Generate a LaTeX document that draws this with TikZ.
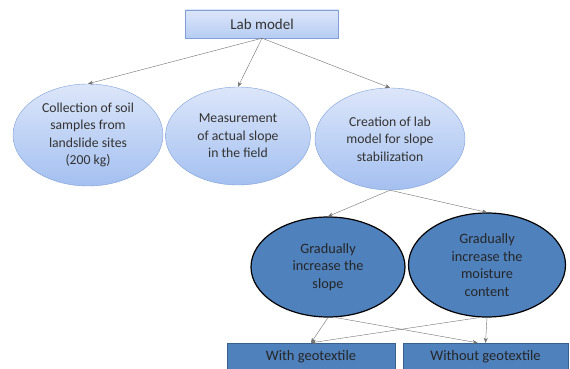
\documentclass[tikz,border=0pt]{standalone}
\usepackage{fontspec}
\setmainfont{Carlito}
\usetikzlibrary{shapes.geometric,arrows.meta}
\definecolor{paleblue}{HTML}{DCE6FA}
\definecolor{midblue}{HTML}{A4C0F0}
\definecolor{lineblue}{HTML}{7F9FD6}
\definecolor{darkblue}{HTML}{4F81BD}
\definecolor{edgeblue}{HTML}{3A6090}
\definecolor{arrowgray}{HTML}{707070}
\begin{document}
\begin{tikzpicture}[x=1pt, y=-1pt, font=\fontsize{13.7}{17.5}\selectfont,
  lightoval/.style={ellipse, draw=lineblue, top color=paleblue, bottom color=midblue, text=black!80, align=center, inner sep=0pt, minimum width=150pt, minimum height=102pt},
  darkoval/.style={ellipse, draw=black, line width=1.2pt, fill=darkblue, text=black!85, align=center, inner sep=0pt, minimum width=154pt, minimum height=100pt, font=\fontsize{14.3}{17.5}\selectfont},
  headbox/.style={rectangle, draw=lineblue, top color=paleblue, bottom color=midblue!80, text=black!80, minimum width=153pt, minimum height=28pt, font=\fontsize{15}{18}\selectfont},
  resultbox/.style={rectangle, draw=edgeblue, fill=darkblue, text=black!85, minimum width=166pt, minimum height=28pt, font=\fontsize{14.5}{18}\selectfont},
  link/.style={draw=arrowgray, -{Stealth[length=5pt, width=4pt]}}]
\useasboundingbox (0,0) rectangle (570,369);
% top
\node[headbox] (lab) at (262,24) {Lab model};
% first row
\node[lightoval] (soil) at (88,135) {Collection of soil\\samples from\\landslide sites\\(200 kg)};
\node[lightoval, minimum width=145pt, minimum height=98pt] (measure) at (238,136) {Measurement\\of actual slope\\in the field};
\node[lightoval] (create) at (390,139) {Creation of lab\\model for slope\\stabilization};
% second row
\node[darkoval] (slope) at (328,267) {Gradually\\increase the\\slope};
\node[darkoval, minimum width=157pt, minimum height=104pt] (moist) at (487,265) {Gradually\\increase the\\moisture\\content};
% bottom
\node[resultbox, minimum width=168pt] (withgeo) at (311,357) {With geotextile};
\node[resultbox, minimum width=165pt] (withoutgeo) at (485.5,357) {Without geotextile};
\draw[link] (lab.south) -- (soil.north);
\draw[link] (lab.south) -- (measure.north);
\draw[link] (lab.south) -- (create.north);
\draw[link] (create.south) -- (slope.north);
\draw[link] (create.south) -- (moist.north);
\draw[link] (slope.south) -- (withgeo.north);
\draw[link] ([xshift=8pt]slope.south) -- ([xshift=-8pt]withoutgeo.north);
\draw[link] ([xshift=-8pt]moist.south) -- (withgeo.north);
\draw[link] (moist.south) -- (withoutgeo.north);
\end{tikzpicture}
\end{document}
